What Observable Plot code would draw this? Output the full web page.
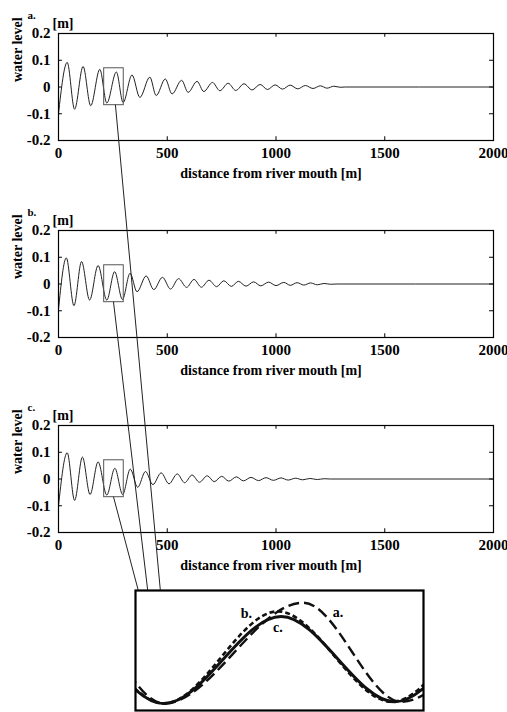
<!DOCTYPE html>
<html><head><meta charset="utf-8">
<script src="https://cdn.jsdelivr.net/npm/d3@7"></script>
<script src="https://cdn.jsdelivr.net/npm/@observablehq/plot@0.6"></script>
<style>
body{margin:0;background:#fff;}
#fig{position:relative;width:507px;height:712px;overflow:hidden;font-family:"Liberation Serif","Times New Roman",serif;}
#fig svg{position:absolute;overflow:visible;}
</style></head><body><div id="fig"></div>
<script>
// ---- data ----
const panelLabels = ["a.", "b.", "c."];
const xLabel = "distance from river mouth [m]";
const yLabel = "water level";
const unitLabel = "[m]";
const xTicks = [0, 500, 1000, 1500, 2000];
const yTicks = [-0.2, -0.1, 0, 0.1, 0.2];

const distA = [0, 40, 74, 113, 148, 190, 222, 266, 297, 338, 374, 420, 449, 491, 522, 566, 596, 637, 668, 708, 742, 780, 815, 853, 890, 927, 961, 996, 1030, 1065, 1100, 1135, 1170, 1204, 1235, 1266, 1295, 1320, 2000];
const levelA = [-0.1, 0.092, -0.083, 0.077, -0.07, 0.066, -0.06, 0.056, -0.058, 0.045, -0.039, 0.037, -0.032, 0.03, -0.026, 0.025, -0.02, 0.021, -0.017, 0.017, -0.014, 0.014, -0.013, 0.012, -0.011, 0.0095, -0.0094, 0.008, -0.008, 0.007, -0.007, 0.0056, -0.0056, 0.0044, -0.0044, 0.003, -0.001, 0, 0];

const distB = [0, 36, 71, 106, 143, 182, 222, 258, 294, 329, 361, 403, 438, 478, 515, 552, 589, 623, 657, 692, 727, 760, 795, 827, 862, 897, 930, 966, 1000, 1036, 1066, 1097, 1128, 1159, 1190, 1221, 1250, 1280, 2000];
const levelB = [-0.095, 0.0975, -0.081, 0.084, -0.06, 0.069, -0.06, 0.046, -0.058, 0.04, -0.029, 0.030, -0.021, 0.025, -0.019, 0.02, -0.0125, 0.017, -0.012, 0.014, -0.01, 0.012, -0.009, 0.010, -0.008, 0.008, -0.007, 0.007, -0.006, 0.006, -0.005, 0.005, -0.004, 0.004, -0.003, 0.002, -0.001, 0, 0];

const distC = [0, 40, 74, 110, 145, 182, 222, 259, 295, 330, 364, 400, 434, 472, 508, 546, 580, 614, 648, 684, 716, 750, 783, 818, 850, 885, 920, 954, 988, 1023, 1056, 1090, 1123, 1156, 1190, 1221, 1250, 2000];
const levelC = [-0.1, 0.098, -0.08, 0.082, -0.058, 0.064, -0.06, 0.040, -0.058, 0.037, -0.031, 0.028, -0.021, 0.023, -0.018, 0.019, -0.014, 0.015, -0.012, 0.012, -0.01, 0.01, -0.008, 0.008, -0.007, 0.006, -0.006, 0.005, -0.005, 0.004, -0.004, 0.003, -0.003, 0.002, -0.002, 0.001, 0, 0];

// zoom window shown in the inset
const zoomX = [210, 300];
const zoomY = [-0.068, 0.07];
const insetDomainX = [213, 304];
const insetDomainY = [-0.068, 0.07];
// connector lines: start on box bottom (panel x), end on inset top (inset x)
const connectorStartX = [264, 255, 255];
const connectorEndX = [221, 217, 214];
// inset curve labels
const insetLabelText = ["a.", "b.", "c."];
const insetLabelX = [277, 248, 258];
const insetLabelY = [0.045, 0.044, 0.028];
const insetDash = ["11,5", "5,3", null];
const insetWidth = [2.4, 2.6, 3];

// ---- layout ----
const fig = document.getElementById("fig");
const W = 507;
const panelTops = [0, 197, 392];
const series = [[distA, levelA], [distB, levelB], [distC, levelC]];
const font = '"Liberation Serif","Times New Roman",serif';

const panels = series.map(([dist, level], i) => {
  const data = dist.map((d, k) => ({x: d, y: level[k]}));
  const p = Plot.plot({
    width: W, height: 195,
    marginLeft: 58, marginRight: 14, marginTop: 33, marginBottom: 55,
    style: {fontFamily: font, fontWeight: "bold", fontSize: "15px", color: "#000", background: "transparent"},
    x: {domain: [0, 2000]},
    y: {domain: [-0.2, 0.2]},
    marks: [
      Plot.axisX(xTicks, {tickSize: 0, tickPadding: 7, tickFormat: d => String(d), label: null, fontSize: 15}),
      Plot.axisY(yTicks, {tickSize: 0, tickPadding: 8, tickFormat: d => d === 0 ? "0" : String(d), label: null, fontSize: 15}),
      // inward ticks
      Plot.ruleX(xTicks.slice(1, -1), {y1: -0.2, y2: -0.186, stroke: "#000"}),
      Plot.ruleX(xTicks.slice(1, -1), {y1: 0.2, y2: 0.186, stroke: "#000"}),
      Plot.ruleY(yTicks.slice(1, -1), {x1: 0, x2: 18, stroke: "#000"}),
      Plot.ruleY(yTicks.slice(1, -1), {x1: 2000, x2: 1982, stroke: "#000"}),
      Plot.line(data, {x: "x", y: "y", curve: "monotone-x", stroke: "#222", strokeWidth: 1}),
      Plot.rect([{x1: zoomX[0], x2: zoomX[1], y1: zoomY[0], y2: zoomY[1]}], {x1: "x1", x2: "x2", y1: "y1", y2: "y2", fill: "none", stroke: "#555", strokeWidth: 1}),
      Plot.frame({stroke: "#000", strokeWidth: 1.2}),
      Plot.text([yLabel], {frameAnchor: "left", rotate: -90, dx: -41, dy: -5, fontSize: 14, fontWeight: "bold"}),
      Plot.text([xLabel], {frameAnchor: "bottom", dx: -5, dy: 37, fontSize: 14, fontWeight: "bold"}),
      Plot.text([unitLabel], {frameAnchor: "top-left", dx: -6, dy: -15, fontSize: 14, fontWeight: "bold"}),
      Plot.text([panelLabels[i]], {frameAnchor: "top-left", dx: -31, dy: -22, fontSize: 11, fontWeight: "bold"})
    ]
  });
  p.style.left = "0px";
  p.style.top = panelTops[i] + "px";
  fig.appendChild(p);
  return p;
});

// ---- inset ----
const insetLeft = 133, insetTop = 588;
const insetMarks = [];
series.forEach(([dist, level], i) => {
  const data = dist.map((d, k) => ({x: d, y: level[k]})).filter(d => d.x > 100 && d.x < 420);
  insetMarks.push(Plot.line(data, {x: "x", y: "y", curve: "monotone-x", clip: true, stroke: "#111",
    strokeWidth: insetWidth[i], strokeDasharray: insetDash[i] || undefined, strokeLinecap: "butt"}));
});
insetMarks.push(Plot.text(insetLabelText.map((t, i) => ({t, x: insetLabelX[i], y: insetLabelY[i]})),
  {x: "x", y: "y", text: "t", fontSize: 14, fontWeight: "bold", fill: "#000"}));
insetMarks.push(Plot.frame({stroke: "#000", strokeWidth: 2.2}));
const inset = Plot.plot({
  width: 292, height: 124,
  marginLeft: 2, marginRight: 2, marginTop: 2, marginBottom: 2,
  style: {fontFamily: font, background: "transparent"},
  x: {domain: insetDomainX, axis: null},
  y: {domain: insetDomainY, axis: null},
  marks: insetMarks
});
inset.style.left = insetLeft + "px";
inset.style.top = insetTop + "px";
fig.appendChild(inset);

// ---- connector lines (computed from the scales) ----
const ov = d3.create("svg").attr("width", W).attr("height", 712)
  .style("left", "0px").style("top", "0px").style("pointer-events", "none");
const ix = inset.scale("x"), iy = inset.scale("y");
panels.forEach((p, i) => {
  const sx = p.scale("x"), sy = p.scale("y");
  const x1 = sx.apply(connectorStartX[i]);
  const y1 = panelTops[i] + sy.apply(zoomY[0]);
  const x2 = insetLeft + ix.apply(connectorEndX[i]);
  const y2 = insetTop + iy.apply(insetDomainY[1]);
  ov.append("line").attr("x1", x1).attr("y1", y1).attr("x2", x2).attr("y2", y2)
    .attr("stroke", "#222").attr("stroke-width", 1);
});
fig.appendChild(ov.node());
</script></body></html>
